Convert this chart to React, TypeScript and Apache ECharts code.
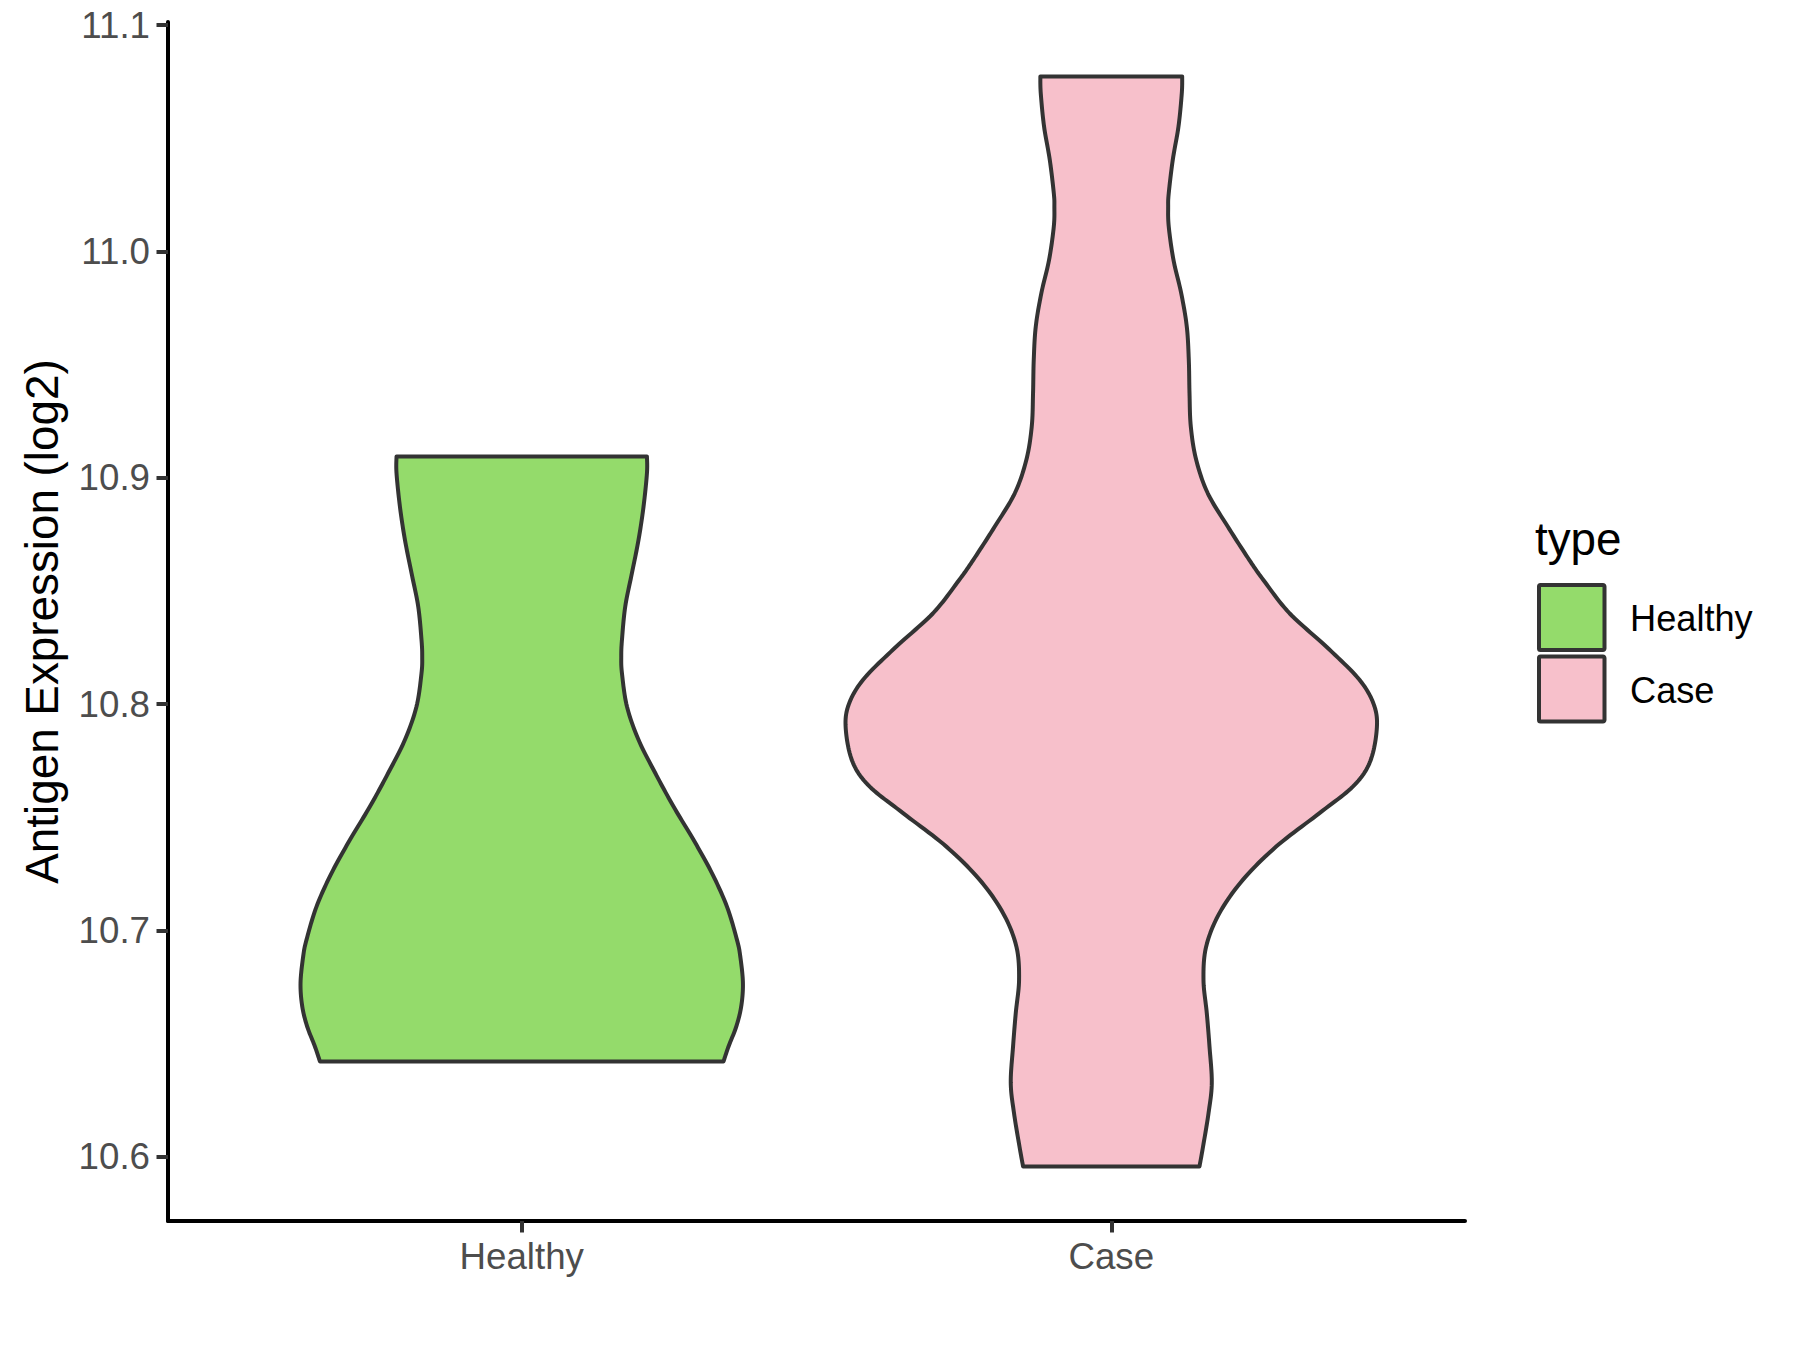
import React, { useEffect, useRef } from "react";
import * as echarts from "echarts";

// ---- data ----
const groups = ["Healthy", "Case"];
const fillColors = ["#94DB6B", "#F7C0CB"];
const outlineColor = "#333333";

// violin outline: expression value (log2) and half-width (in x-axis units)
const healthyY = [
  10.6422, 10.6488, 10.6576, 10.6665, 10.6768, 10.6886, 10.6959, 10.7106, 10.7254, 10.7401,
  10.7548, 10.7696, 10.7843, 10.799, 10.8137, 10.8211, 10.8284, 10.8432, 10.8579, 10.8726,
  10.8873, 10.9021, 10.9094,
];
const healthyHalfWidth = [
  0.3423, 0.3508, 0.3639, 0.3723, 0.3752, 0.3707, 0.3651, 0.3481, 0.3226, 0.2914,
  0.2575, 0.2265, 0.1981, 0.1785, 0.17, 0.1688, 0.17, 0.1756, 0.1869, 0.1981,
  0.2066, 0.2124, 0.2124,
];
const caseY = [
  10.5958, 10.6046, 10.6194, 10.6327, 10.6488, 10.6636, 10.6783, 10.693, 10.7077, 10.7224,
  10.7371, 10.7519, 10.7636, 10.774, 10.7879, 10.799, 10.8108, 10.8255, 10.8402, 10.8549,
  10.8638, 10.8785, 10.8932, 10.908, 10.9227, 10.9374, 10.9521, 10.9668, 10.9816, 10.9963,
  11.011, 11.0198, 11.0258, 11.0405, 11.0552, 11.0699, 11.0773,
];
const caseHalfWidth = [
  0.1496, 0.1557, 0.165, 0.1705, 0.1666, 0.162, 0.1564, 0.161, 0.1835, 0.2231,
  0.2797, 0.3532, 0.4097, 0.438, 0.45, 0.4465, 0.421, 0.3645, 0.3023, 0.258,
  0.234, 0.1976, 0.1637, 0.144, 0.1349, 0.1327, 0.1315, 0.1281, 0.1186, 0.1055,
  0.0975, 0.0965, 0.0975, 0.1043, 0.114, 0.1196, 0.1203,
];
const yTicks = [10.6, 10.7, 10.8, 10.9, 11.0, 11.1];
const xTicks = [1, 2];
const yTitle = "Antigen Expression (log2)";
const legendTitle = "type";

const FONT = '"Liberation Sans", Arial, Helvetica, sans-serif';

function smooth(pts: number[][], steps: number): number[][] {
  const out: number[][] = [];
  const n = pts.length;
  for (let i = 0; i < n - 1; i++) {
    const p0 = pts[Math.max(i - 1, 0)];
    const p1 = pts[i];
    const p2 = pts[i + 1];
    const p3 = pts[Math.min(i + 2, n - 1)];
    for (let s = 0; s < steps; s++) {
      const t = s / steps;
      const t2 = t * t;
      const t3 = t2 * t;
      const f = (a: number, b: number, c: number, d: number) =>
        0.5 * (2 * b + (-a + c) * t + (2 * a - 5 * b + 4 * c - d) * t2 + (-a + 3 * b - 3 * c + d) * t3);
      out.push([f(p0[0], p1[0], p2[0], p3[0]), f(p0[1], p1[1], p2[1], p3[1])]);
    }
  }
  out.push(pts[n - 1]);
  return out;
}

export default function App() {
  const ref = useRef<HTMLDivElement>(null);
  useEffect(() => {
    document.body.style.margin = "0";
    const chart = echarts.init(ref.current as HTMLDivElement, null, { renderer: "svg" });
    const profiles = [
      { y: healthyY, w: healthyHalfWidth },
      { y: caseY, w: caseHalfWidth },
    ];
    const option: any = {
      animation: false,
      grid: { left: 168, right: 335, top: 22, bottom: 129 },
      xAxis: {
        type: "value",
        min: 0.4,
        max: 2.6,
        axisLine: { show: true, onZero: false, lineStyle: { color: "#000000", width: 4 } },
        axisTick: { show: true, customValues: xTicks, length: 11.5, lineStyle: { color: "#333333", width: 4 } },
        axisLabel: {
          customValues: xTicks,
          formatter: (v: number) => groups[Math.round(v) - 1] ?? "",
          color: "#4D4D4D",
          fontSize: 36.7,
          fontFamily: FONT,
          margin: 16.5,
        },
        splitLine: { show: false },
      },
      yAxis: {
        type: "value",
        min: 10.5717,
        max: 11.1014,
        axisLine: { show: true, onZero: false, lineStyle: { color: "#000000", width: 4 } },
        axisTick: { show: true, customValues: yTicks, length: 11.5, lineStyle: { color: "#333333", width: 4 } },
        axisLabel: {
          customValues: yTicks,
          formatter: (v: number) => v.toFixed(1),
          color: "#4D4D4D",
          fontSize: 36.7,
          fontFamily: FONT,
          margin: 18,
        },
        splitLine: { show: false },
      },
      series: [
        {
          type: "custom",
          coordinateSystem: "cartesian2d",
          data: groups.map((g, i) => [i + 1, profiles[i].y[0]]),
          encode: { x: 0, y: 1 },
          renderItem: (params: any, api: any) => {
            const i = params.dataIndex;
            const cx = api.value(0);
            const p = profiles[i];
            const right = p.y.map((v, k) => api.coord([cx + p.w[k], v]));
            const left = p.y.map((v, k) => api.coord([cx - p.w[k], v]));
            const r = smooth(right, 12);
            const l = smooth(left, 12).reverse();
            return {
              type: "polygon",
              shape: { points: r.concat(l) },
              style: { fill: fillColors[i], stroke: outlineColor, lineWidth: 4, lineJoin: "round" },
            };
          },
        },
      ],
      graphic: [
        {
          type: "text",
          x: 42.5,
          y: 621.5,
          rotation: Math.PI / 2,
          style: {
            text: yTitle,
            fontSize: 45.8,
            fontFamily: FONT,
            fill: "#000000",
            align: "center",
            verticalAlign: "middle",
          },
        },
        {
          type: "text",
          x: 1535,
          y: 539,
          style: {
            text: legendTitle,
            fontSize: 45.8,
            fontFamily: FONT,
            fill: "#000000",
            align: "left",
            verticalAlign: "middle",
          },
        },
        ...groups.flatMap((g, i) => [
          {
            type: "rect",
            shape: { x: 1539, y: 585 + i * 71.5, width: 65.5, height: 65, r: 1.5 },
            style: { fill: fillColors[i], stroke: outlineColor, lineWidth: 4 },
          },
          {
            type: "text",
            x: 1630,
            y: 618 + i * 72,
            style: {
              text: g,
              fontSize: 36.2,
              fontFamily: FONT,
              fill: "#000000",
              align: "left",
              verticalAlign: "middle",
            },
          },
        ]),
      ],
    };
    chart.setOption(option);
    return () => chart.dispose();
  }, []);
  return <div ref={ref} style={{ width: 1800, height: 1350 }} />;
}
